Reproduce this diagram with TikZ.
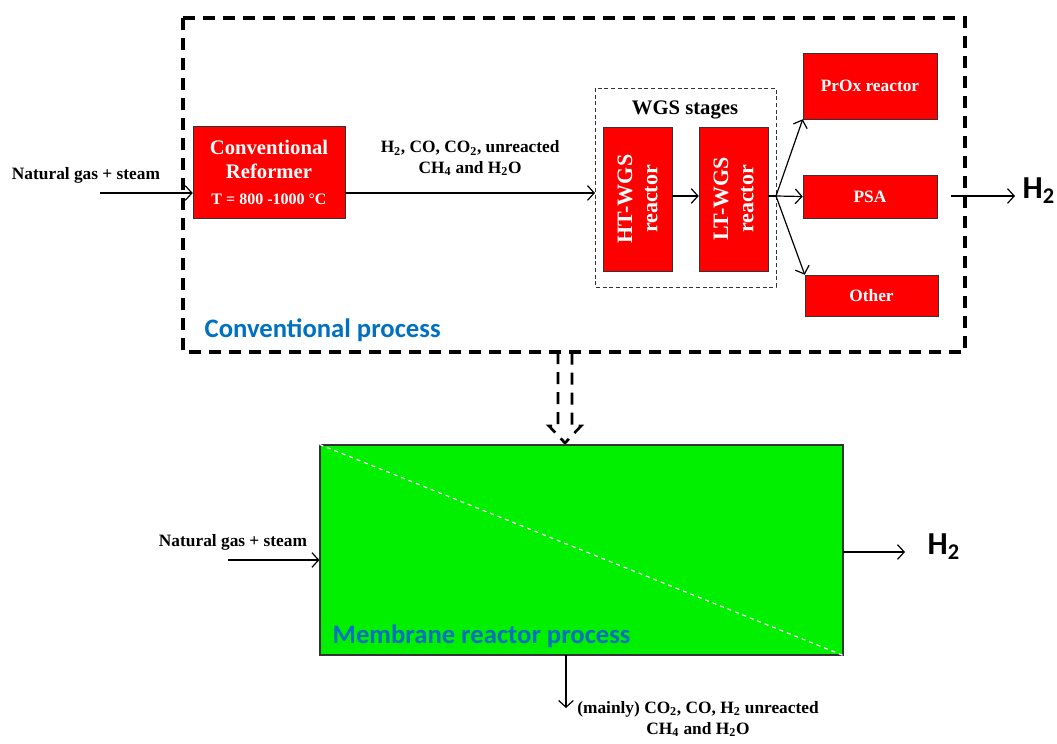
\documentclass[tikz,border=0pt]{standalone}
\usepackage{fontspec}
\setmainfont{Liberation Serif}
\newfontfamily\calibri{Carlito}
\usepackage{tikz}
\usetikzlibrary{arrows.meta, positioning, calc}

\definecolor{boxred}{RGB}{255,0,0}
\definecolor{memgreen}{RGB}{0,240,0}
\definecolor{procblue}{RGB}{0,112,192}

\begin{document}
\begin{tikzpicture}[x=0.75pt, y=-0.75pt,
  unit/.style={draw=black!80, fill=boxred, text=white, font=\bfseries\fontsize{13}{15}\selectfont, align=center, inner sep=0pt},
  flow/.style={-{Straight Barb[length=5pt, width=11pt]}, line width=0.9pt},
  stream/.style={font=\bfseries\fontsize{13}{15.5}\selectfont, align=center},
  proclabel/.style={text=procblue, font=\calibri\bfseries\fontsize{20}{24}\selectfont, anchor=west},
  htwo/.style={font=\calibri\bfseries\fontsize{24}{28}\selectfont}
]
  \useasboundingbox (0,0) rectangle (1057,743);

  % Conventional process boundary
  \draw[line width=2.6pt, dash pattern=on 9pt off 6pt] (183,18) rectangle (965,352);
  \node[proclabel] (convlbl) at (200,330) {Conventional process};

  % Reformer
  \node[stream] (ngin) at (86,175) {Natural gas + steam};
  \coordinate (ngstart) at (100,193);
  \node[unit, minimum width=152*0.75pt, minimum height=92*0.75pt] (reformer) at (269,172) {};
  \node[text=white, font=\bfseries\fontsize{15.5}{18}\selectfont, align=center] (reftitle) at (269,159) {Conventional\\Reformer};
  \node[text=white, font=\bfseries\fontsize{12}{14}\selectfont] (reftemp) at (269,199) {T = 800 -1000 \textdegree C};
  \draw[flow] (ngstart) -- (ngstart -| reformer.west);

  % WGS stages
  \draw[densely dashed, draw=black!80, line width=0.7pt] (595,88) rectangle (776,287);
  \node[font=\bfseries\fontsize{15.5}{18}\selectfont] (wgslbl) at (685,110) {WGS stages};
  \coordinate (wgsin) at (595,193);
  \coordinate (split) at (776,196);
  \node[unit, minimum width=69*0.75pt, minimum height=144*0.75pt] (ht) at (637.5,199) {};
  \node[unit, minimum width=69*0.75pt, minimum height=144*0.75pt] (lt) at (733.5,199) {};
  \node[rotate=90, text=white, font=\bfseries\fontsize{16.5}{19}\selectfont, align=center] (httxt) at (ht.center) {HT-WGS\\reactor};
  \node[rotate=90, text=white, font=\bfseries\fontsize{16.5}{19}\selectfont, align=center] (lttxt) at (lt.center) {LT-WGS\\reactor};

  \draw[flow] (reformer.east |- wgsin) -- node[stream, above=9pt] {H\textsubscript{2}, CO, CO\textsubscript{2}, unreacted\\CH\textsubscript{4} and H\textsubscript{2}O} (wgsin);
  \draw[flow] (ht.east |- split) -- (lt.west |- split);

  % Purification
  \node[unit, minimum width=134*0.75pt, minimum height=66*0.75pt] (prox) at (870,86) {PrOx reactor};
  \node[unit, minimum width=134*0.75pt, minimum height=43*0.75pt] (psa) at (870,196.5) {PSA};
  \node[unit, minimum width=133*0.75pt, minimum height=41*0.75pt] (other) at (871.5,295.5) {Other};
  \draw[line width=0.9pt] (lt.east |- split) -- (split);
  \draw[flow] (split) -- (prox.south west);
  \draw[flow] (split) -- (psa.west);
  \draw[flow] (split) -- (other.north west);

  \coordinate (hstart) at (951,196);
  \coordinate (hend) at (1015,196);
  \node[htwo, anchor=west] (htop) at (1018,191) {H\textsubscript{2}};
  \draw[flow] (hstart) -- (hend);

  % Transition arrow
  \draw[line width=2pt, dash pattern=on 9pt off 6pt] (558,352) -- (558,426) -- (549,426) -- (565,443) -- (581,426) -- (572,426) -- (572,352);

  % Membrane reactor
  \node[draw=black!80, fill=memgreen, line width=0.9pt, minimum width=523*0.75pt, minimum height=210*0.75pt, inner sep=0pt] (membrane) at (581.5,550) {};
  \draw[white, dashed, line width=0.9pt] (membrane.north west) -- (membrane.south east);
  \node[proclabel] (memlbl) at (328,636) {Membrane reactor process};

  \node[stream] (ngin2) at (233,542) {Natural gas + steam};
  \coordinate (ng2start) at (228,560);
  \draw[flow] (ng2start) -- (ng2start -| membrane.west);

  \coordinate (hbot) at (843,552);
  \coordinate (hbotend) at (905,552);
  \node[htwo, anchor=west] (hbotlbl) at (923,547) {H\textsubscript{2}};
  \draw[flow] (hbot) -- (hbotend);

  \coordinate (retout) at (566,655);
  \coordinate (retend) at (566,708);
  \draw[flow] (retout) -- (retend);
  \node[stream] (retlbl) at (698,719) {(mainly) CO\textsubscript{2}, CO, H\textsubscript{2} unreacted\\CH\textsubscript{4} and H\textsubscript{2}O};
\end{tikzpicture}
\end{document}
